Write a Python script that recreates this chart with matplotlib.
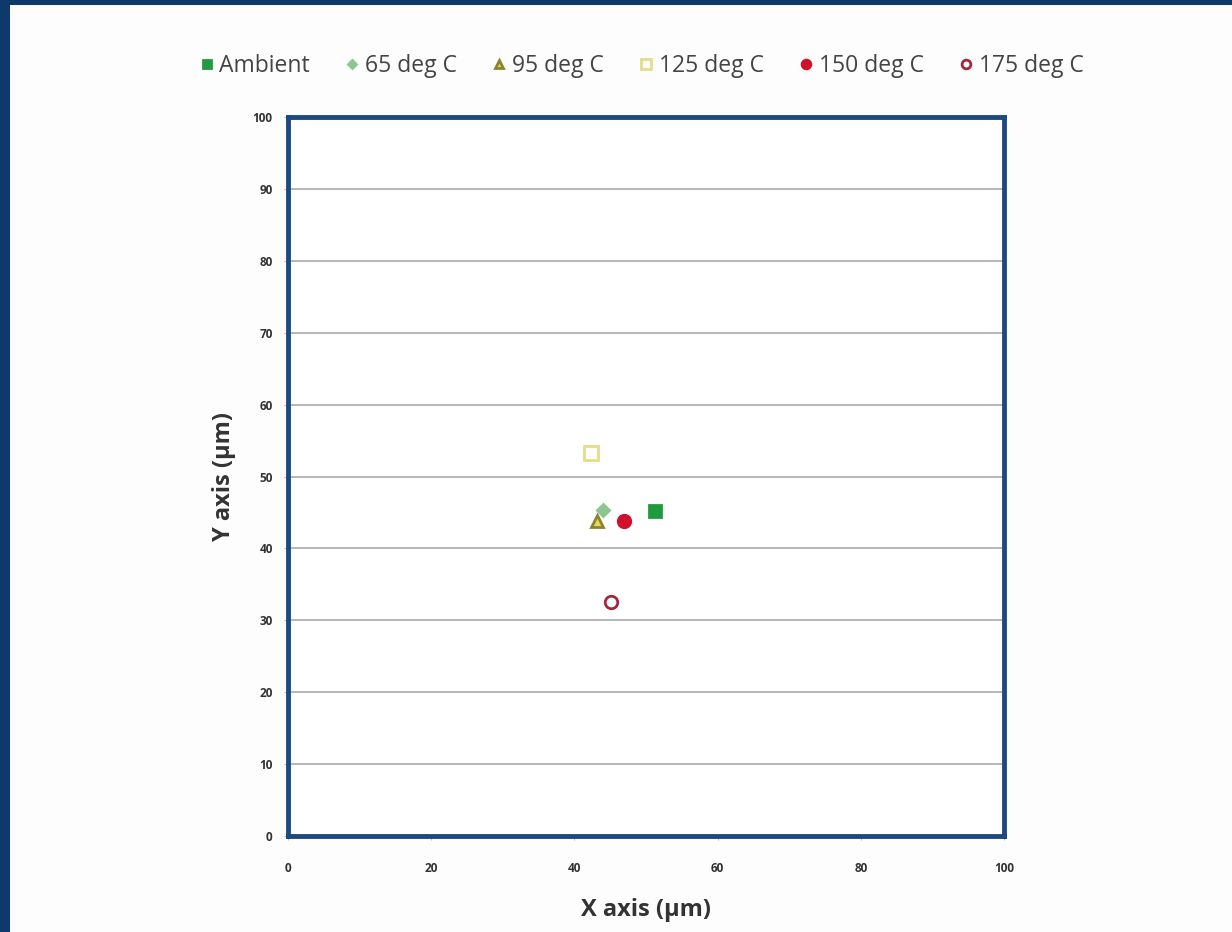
import matplotlib.pyplot as plt
from matplotlib.patches import Rectangle

plt.rcParams['font.family'] = ['Open Sans', 'DejaVu Sans']

# data
series = ['Ambient', '65 deg C', '95 deg C', '125 deg C', '150 deg C', '175 deg C']
x_vals = [51.3, 44.0, 43.2, 42.3, 46.9, 45.1]
y_vals = [45.2, 45.3, 43.8, 53.3, 43.8, 32.5]
ticks = [0, 20, 40, 60, 80, 100]
yticks = [0, 10, 20, 30, 40, 50, 60, 70, 80, 90, 100]

# marker style per series
markers = ['s', 'D', '^', 's', 'o', 'o']
sizes = [9, 6, 8, 10, 9, 9]
faces = ['#1f9a3e', '#8cc78e', '#e8d84a', 'none', '#d0112b', 'none']
edges = ['#1f9a3e', '#8cc78e', '#8a8430', '#e6dc8a', '#d0112b', '#a3283d']

fig = plt.figure(figsize=(12.32, 9.32), dpi=100)
fig.patch.set_facecolor('#0d3a6b')
fig.patches.append(Rectangle((10 / 1232, 0), 1 - 10 / 1232, 1 - 5 / 932,
                             transform=fig.transFigure, facecolor='#fdfdfd',
                             edgecolor='none', zorder=-5))

ax = fig.add_axes([288 / 1232, 1 - 836 / 932, 716 / 1232, 719 / 932])
ax.set_facecolor('white')

for i, name in enumerate(series):
    ax.plot(x_vals[i], y_vals[i], linestyle='none', marker=markers[i],
            markersize=sizes[i], markerfacecolor=faces[i],
            markeredgecolor=edges[i], markeredgewidth=2, label=name, zorder=3)

ax.set_xlim(0, 100)
ax.set_ylim(0, 100)
ax.set_xticks(ticks)
ax.set_yticks(yticks)
ax.tick_params(axis='both', labelsize=8.5, length=3, color='#bbbbbb')
for lab in ax.get_xticklabels() + ax.get_yticklabels():
    lab.set_fontweight('bold')
    lab.set_color('#333333')
ax.tick_params(axis='x', pad=16)
ax.tick_params(axis='y', pad=8)

ax.grid(axis='y', color='#aaaaaa', linewidth=1.2)
ax.set_axisbelow(True)
for sp in ax.spines.values():
    sp.set_color('#1c4a80')
    sp.set_linewidth(3.5)

ax.set_xlabel('X axis (µm)', fontsize=17, fontweight='bold', color='#333333', labelpad=16)
ax.set_ylabel('Y axis (µm)', fontsize=17, fontweight='bold', color='#333333', labelpad=12)

fig.legend(loc='center', bbox_to_anchor=(640 / 1232, 1 - 66 / 932), ncol=6,
           frameon=False, fontsize=16.5, handletextpad=0.1, columnspacing=1.4,
           handlelength=0.9, markerscale=0.7, labelcolor='#444444')

fig.savefig('out.png', dpi=100, facecolor=fig.get_facecolor())
